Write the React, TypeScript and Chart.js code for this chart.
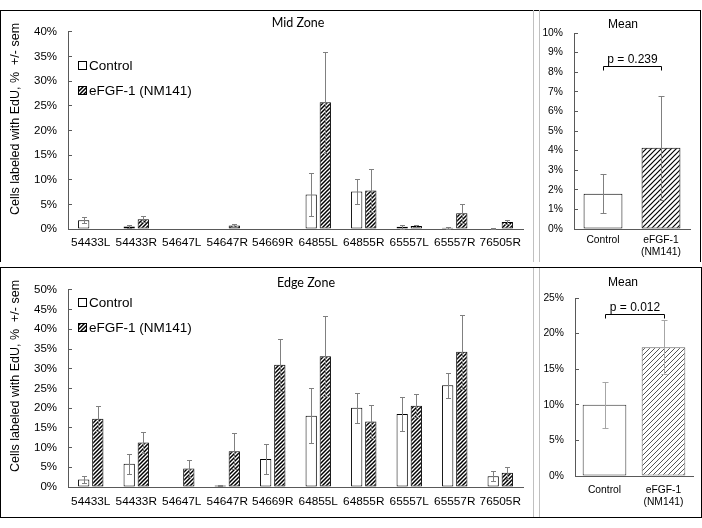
import React, { useEffect, useRef } from 'react';
import { Chart, registerables } from 'chart.js';

Chart.register(...registerables);

// ---------------- DATA ----------------
const categories = ['54433L', '54433R', '54647L', '54647R', '54669R', '64855L', '64855R', '65557L', '65557R', '76505R'];

const midControl = [1.8, 0.5, 0, 0, 0, 7.0, 7.6, 0.45, 0.25, 0.1];
const midControlErr = [0.6, 0.3, 0, 0, 0, 4.4, 2.5, 0.35, 0.15, 0.05];
const midEfgf = [0, 2.0, 0, 0.7, 0, 25.7, 7.8, 0.6, 3.2, 1.4];
const midEfgfErr = [0, 0.6, 0, 0.3, 0, 10.2, 4.3, 0.2, 1.9, 0.4];

const edgeControl = [1.9, 5.9, 0, 0.4, 7.1, 18.1, 20.1, 18.5, 25.8, 2.7];
const edgeControlErr = [0.8, 2.5, 0, 0.2, 3.9, 6.9, 3.8, 4.3, 3.2, 1.3];
const edgeEfgf = [17.3, 11.3, 4.7, 9.1, 31.0, 33.2, 16.6, 20.6, 34.3, 3.6];
const edgeEfgfErr = [3.2, 2.6, 2.2, 4.5, 6.6, 10.2, 4.2, 2.9, 9.4, 1.5];

const meanLabels: (string | string[])[] = ['Control', ['eFGF-1', '(NM141)']];
const midMean = [1.8, 4.15];
const midMeanErr = [1.0, 2.65];
const edgeMean = [10.0, 18.1];
const edgeMeanErr = [3.2, 3.8];

const midPText = 'p = 0.239';
const midPLevel = 8.3;
const edgePText = 'p = 0.012';
const edgePLevel = 22.7;

const seriesNames = ['Control', 'eFGF-1 (NM141)'];
const yTitleText = 'Cells labeled with EdU, %  +/- sem';

// ---------------- STYLE ----------------
const FONT = '"Liberation Sans", Arial, sans-serif';
const AXIS = '#595959';

function makeHatch(color: string, size: number, lw: number): CanvasPattern {
  const c = document.createElement('canvas');
  c.width = size;
  c.height = size;
  const g = c.getContext('2d')!;
  g.fillStyle = '#ffffff';
  g.fillRect(0, 0, size, size);
  g.strokeStyle = color;
  g.lineWidth = lw;
  g.beginPath();
  g.moveTo(0, size);
  g.lineTo(size, 0);
  g.moveTo(-size / 2, size / 2);
  g.lineTo(size / 2, -size / 2);
  g.moveTo(size / 2, size * 1.5);
  g.lineTo(size * 1.5, size / 2);
  g.stroke();
  return g.createPattern(c, 'repeat')!;
}

const errorBarPlugin = {
  id: 'errorBars',
  afterDatasetsDraw(chart: any, _args: any, opts: any) {
    const { ctx } = chart;
    const ys = chart.scales.y;
    const errs = opts.errors || [];
    ctx.save();
    ctx.strokeStyle = opts.color || '#808080';
    ctx.lineWidth = 1;
    chart.data.datasets.forEach((ds: any, d: number) => {
      const e = errs[d];
      if (!e) return;
      const meta = chart.getDatasetMeta(d);
      meta.data.forEach((bar: any, i: number) => {
        const v = ds.data[i];
        const err = e[i];
        if (v == null || !err) return;
        const x = Math.round(bar.x) + 0.5;
        const yt = Math.round(ys.getPixelForValue(v + err)) + 0.5;
        const yb = Math.round(ys.getPixelForValue(Math.max(v - err, 0))) + 0.5;
        const hw = (opts.cap || 6) / 2;
        ctx.beginPath();
        ctx.moveTo(x, yt);
        ctx.lineTo(x, yb);
        ctx.moveTo(x - hw, yt);
        ctx.lineTo(x + hw, yt);
        ctx.moveTo(x - hw, yb);
        ctx.lineTo(x + hw, yb);
        ctx.stroke();
      });
    });
    ctx.restore();
  },
};

const extrasPlugin = {
  id: 'extras',
  afterDraw(chart: any, _args: any, o: any) {
    const ctx: CanvasRenderingContext2D = chart.ctx;
    ctx.save();
    ctx.fillStyle = '#000';
    if (o.title) {
      ctx.font = o.title.font;
      ctx.textAlign = 'center';
      ctx.textBaseline = 'middle';
      ctx.fillText(o.title.text, o.title.x, o.title.y);
    }
    if (o.yTitle) {
      ctx.save();
      ctx.translate(o.yTitle.x, o.yTitle.y);
      ctx.rotate(-Math.PI / 2);
      ctx.font = o.yTitle.font;
      ctx.textAlign = 'center';
      ctx.textBaseline = 'middle';
      ctx.fillStyle = '#000';
      ctx.fillText(o.yTitle.text, 0, 0);
      ctx.restore();
    }
    if (o.legend) {
      const L = o.legend;
      L.items.forEach((it: any, k: number) => {
        const cy = L.y[k];
        const bx = L.x;
        const s = L.box;
        ctx.fillStyle = it.fill;
        ctx.fillRect(bx, Math.round(cy - s / 2), s, s);
        ctx.strokeStyle = '#000';
        ctx.lineWidth = 1;
        ctx.strokeRect(bx + 0.5, Math.round(cy - s / 2) + 0.5, s - 1, s - 1);
        ctx.fillStyle = '#000';
        ctx.font = L.font;
        ctx.textAlign = 'left';
        ctx.textBaseline = 'middle';
        ctx.fillText(it.text, bx + s + 2, cy + 1);
      });
    }
    if (o.bracket) {
      const B = o.bracket;
      const xs = chart.scales.x;
      const ys = chart.scales.y;
      const x0 = Math.round(xs.getPixelForValue(0)) + 0.5;
      const x1 = Math.round(xs.getPixelForValue(1)) + 0.5;
      const yb = Math.round(ys.getPixelForValue(B.level)) + 0.5;
      ctx.strokeStyle = '#000';
      ctx.lineWidth = 1;
      ctx.beginPath();
      ctx.moveTo(x0, yb + 4);
      ctx.lineTo(x0, yb);
      ctx.lineTo(x1, yb);
      ctx.lineTo(x1, yb + 4);
      ctx.stroke();
      ctx.fillStyle = '#000';
      ctx.font = B.font;
      ctx.textAlign = 'center';
      ctx.textBaseline = 'bottom';
      ctx.fillText(B.text, (x0 + x1) / 2, yb - 1);
    }
    ctx.restore();
  },
};

function mainConfig(p: any) {
  const hatch = makeHatch('#000', 4, 1.5);
  return {
    type: 'bar',
    data: {
      labels: categories,
      datasets: [
        {
          label: seriesNames[0],
          data: p.control,
          backgroundColor: '#ffffff',
          borderColor: '#000',
          borderWidth: 1,
          borderSkipped: false,
          categoryPercentage: 0.62,
          barPercentage: 0.8,
        },
        {
          label: seriesNames[1],
          data: p.efgf,
          backgroundColor: hatch,
          borderColor: '#000',
          borderWidth: 1,
          borderSkipped: false,
          categoryPercentage: 0.62,
          barPercentage: 0.8,
        },
      ],
    },
    options: {
      responsive: false,
      maintainAspectRatio: false,
      animation: false,
      events: [],
      layout: { padding: { left: 0, right: p.padRight, top: p.padTop, bottom: 3 } },
      scales: {
        x: {
          offset: true,
          grid: { display: false, drawTicks: false },
          border: { display: true, color: AXIS, width: 1 },
          ticks: { font: { family: FONT, size: 11.8 }, color: '#000', maxRotation: 0, minRotation: 0, autoSkip: false, padding: p.xPad },
          afterFit: (s: any) => { s.height = p.xh; },
        },
        y: {
          min: 0,
          max: p.max,
          ticks: { stepSize: 5, callback: (v: any) => v + '%', font: { family: FONT, size: 11.5 }, color: '#000', padding: 15 },
          grid: { display: true, drawOnChartArea: false, drawTicks: true, tickLength: -4, color: AXIS },
          border: { display: true, color: AXIS, width: 1 },
          afterFit: (s: any) => { s.width = 68; },
        },
      },
      plugins: {
        legend: { display: false },
        tooltip: { enabled: false },
        title: { display: false },
        errorBars: { errors: [p.controlErr, p.efgfErr], color: '#808080', cap: 5 },
        extras: {
          title: { text: p.title, x: p.titleX, y: p.titleY, font: '12.5px Lato, "Liberation Sans", sans-serif' },
          yTitle: { text: yTitleText, x: 16, y: p.yTitleY, font: `12.5px ${FONT}` },
          legend: {
            x: 78,
            y: p.legendY,
            box: 9,
            font: `13.5px ${FONT}`,
            items: [
              { text: seriesNames[0], fill: '#ffffff' },
              { text: seriesNames[1], fill: hatch },
            ],
          },
        },
      },
    },
    plugins: [errorBarPlugin, extrasPlugin],
  };
}

function meanConfig(p: any) {
  const hatch = makeHatch(p.hatchColor, p.hatchSize, p.hatchWidth);
  return {
    type: 'bar',
    data: {
      labels: meanLabels,
      datasets: [
        {
          data: p.values,
          backgroundColor: ['#ffffff', hatch],
          borderColor: p.borderColors,
          borderWidth: 1,
          borderSkipped: false,
          categoryPercentage: p.catPct,
          barPercentage: 1,
        },
      ],
    },
    options: {
      responsive: false,
      maintainAspectRatio: false,
      animation: false,
      events: [],
      layout: { padding: { left: 0, right: p.padRight, top: p.padTop, bottom: 3 } },
      scales: {
        x: {
          offset: true,
          grid: { display: false, drawTicks: false },
          border: { display: true, color: AXIS, width: 1 },
          ticks: { font: { family: FONT, size: 10.3 }, color: '#000', maxRotation: 0, minRotation: 0, autoSkip: false, padding: p.xPad },
          afterFit: (s: any) => { s.height = p.xh; },
        },
        y: {
          min: 0,
          max: p.max,
          ticks: { stepSize: p.step, callback: (v: any) => v + '%', font: { family: FONT, size: 10.3 }, color: '#000', padding: 15 },
          grid: { display: true, drawOnChartArea: false, drawTicks: true, tickLength: -4, color: AXIS },
          border: { display: true, color: AXIS, width: 1 },
          afterFit: (s: any) => { s.width = p.yw; },
        },
      },
      plugins: {
        legend: { display: false },
        tooltip: { enabled: false },
        title: { display: false },
        errorBars: { errors: [p.errors], color: p.errColor, cap: 6 },
        extras: {
          title: { text: 'Mean', x: 83, y: 15, font: `12px ${FONT}` },
          bracket: { level: p.pLevel, text: p.pText, font: `12px ${FONT}` },
        },
      },
    },
    plugins: [errorBarPlugin, extrasPlugin],
  };
}

function ChartCanvas({ left, top, width, height, make }: any) {
  const ref = useRef<HTMLCanvasElement>(null);
  useEffect(() => {
    const chart = new Chart(ref.current as HTMLCanvasElement, make() as any);
    return () => chart.destroy();
  }, []);
  return (
    <canvas
      ref={ref}
      width={width}
      height={height}
      style={{ position: 'absolute', left, top, width, height }}
    />
  );
}

export default function App() {
  const sep = (top: number, height: number) => (
    <>
      <div style={{ position: 'absolute', left: 533, top, width: 1, height, background: '#c0c0c0' }} />
      <div style={{ position: 'absolute', left: 539, top, width: 1, height, background: '#c0c0c0' }} />
    </>
  );
  return (
    <div style={{ position: 'fixed', left: 0, top: 0, width: 702, height: 528, background: '#fff', overflow: 'hidden' }}>
      {/* top box */}
      <div style={{ position: 'absolute', left: 0, top: 10, width: 701, height: 252, borderTop: '1px solid #000', borderLeft: '1px solid #000', borderRight: '1px solid #000', boxSizing: 'border-box' }} />
      {sep(10, 252)}
      {/* bottom box */}
      <div style={{ position: 'absolute', left: 0, top: 267, width: 702, height: 251, border: '1px solid #000', boxSizing: 'border-box' }} />
      {sep(268, 249)}

      <ChartCanvas
        left={0}
        top={10}
        width={533}
        height={252}
        make={() =>
          mainConfig({
            control: midControl,
            controlErr: midControlErr,
            efgf: midEfgf,
            efgfErr: midEfgfErr,
            max: 40,
            padTop: 10,
            padRight: 10,
            xh: 30,
            xPad: 7,
            title: 'Mid Zone',
            titleX: 298,
            titleY: 13,
            yTitleY: 109,
            legendY: [55, 80],
          })
        }
      />
      <ChartCanvas
        left={540}
        top={10}
        width={160}
        height={252}
        make={() =>
          meanConfig({
            values: midMean,
            errors: midMeanErr,
            max: 10,
            step: 1,
            yw: 34,
            padTop: 23,
            padRight: 10,
            xh: 30,
            xPad: 5,
            catPct: 0.67,
            hatchColor: '#000',
            hatchSize: 5,
            hatchWidth: 1.2,
            borderColors: ['#000', '#000'],
            errColor: '#808080',
            pLevel: midPLevel,
            pText: midPText,
          })
        }
      />
      <ChartCanvas
        left={0}
        top={268}
        width={533}
        height={248}
        make={() =>
          mainConfig({
            control: edgeControl,
            controlErr: edgeControlErr,
            efgf: edgeEfgf,
            efgfErr: edgeEfgfErr,
            max: 50,
            padTop: 11,
            padRight: 10,
            xh: 26,
            xPad: 8,
            title: 'Edge Zone',
            titleX: 306,
            titleY: 15,
            yTitleY: 108,
            legendY: [34, 59],
          })
        }
      />
      <ChartCanvas
        left={540}
        top={268}
        width={160}
        height={248}
        make={() =>
          meanConfig({
            values: edgeMean,
            errors: edgeMeanErr,
            max: 25,
            step: 5,
            yw: 35,
            padTop: 30,
            padRight: 7,
            xh: 37,
            xPad: 8,
            catPct: 0.74,
            hatchColor: '#555',
            hatchSize: 5,
            hatchWidth: 1,
            borderColors: ['#333', '#666'],
            errColor: '#a6a6a6',
            pLevel: edgePLevel,
            pText: edgePText,
          })
        }
      />
    </div>
  );
}
